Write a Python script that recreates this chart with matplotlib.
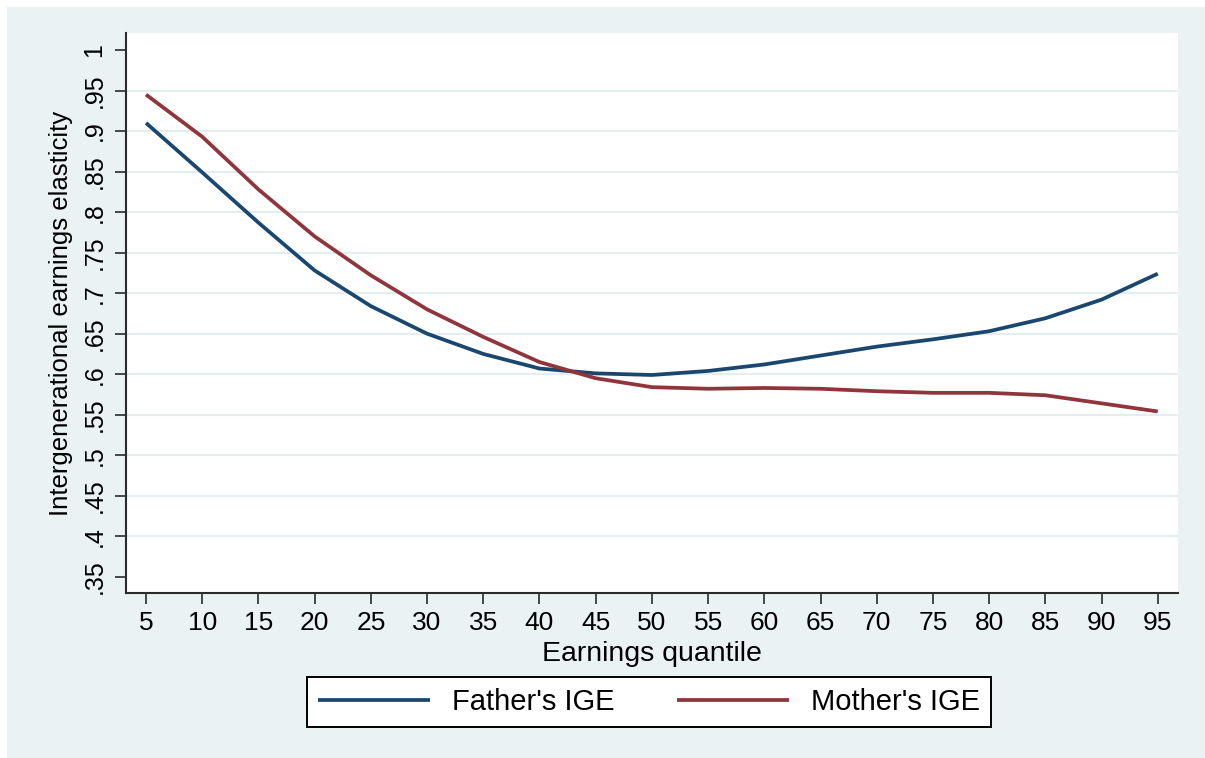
import matplotlib
matplotlib.use('Agg')
import matplotlib.pyplot as plt
from matplotlib.patches import Rectangle

plt.rcParams['font.family'] = ['Liberation Sans', 'DejaVu Sans']

# data
quantile = list(range(5, 100, 5))
father_ige = [0.910, 0.849, 0.787, 0.728, 0.684, 0.650, 0.625, 0.607, 0.601, 0.599,
              0.604, 0.612, 0.623, 0.634, 0.643, 0.653, 0.669, 0.692, 0.724]
mother_ige = [0.945, 0.893, 0.828, 0.770, 0.722, 0.680, 0.646, 0.615, 0.595, 0.584,
              0.582, 0.583, 0.582, 0.579, 0.577, 0.577, 0.574, 0.564, 0.554]
y_ticks = [0.35, 0.40, 0.45, 0.50, 0.55, 0.60, 0.65, 0.70, 0.75, 0.80, 0.85, 0.90, 0.95, 1.0]
y_labels = ['.35', '.4', '.45', '.5', '.55', '.6', '.65', '.7', '.75', '.8', '.85', '.9', '.95', '1']

W, H = 1205, 758
bg = '#EAF2F3'
navy = '#1A476F'
maroon = '#90353B'
axcol = '#2b2b2b'

fig = plt.figure(figsize=(W / 100, H / 100), dpi=100, facecolor='white')
# grey graph region, white strip on top and left like the source image
fig.patches.append(Rectangle((7 / W, 0), 1, 1 - 7 / H, transform=fig.transFigure,
                             facecolor=bg, edgecolor='none', zorder=-10))

ax = fig.add_axes([126 / W, 1 - 593 / H, (1178 - 126) / W, (593 - 33) / H])
ax.set_facecolor('white')

ax.plot(quantile, father_ige, color=navy, lw=2.7, label="Father's IGE", solid_capstyle='butt')
ax.plot(quantile, mother_ige, color=maroon, lw=2.7, label="Mother's IGE", solid_capstyle='butt')

ax.set_xlim(3.22, 96.8)
ax.set_ylim(0.330, 1.021)

ax.set_xticks(quantile)
ax.set_xticklabels([str(q) for q in quantile], fontsize=19)
ax.set_yticks(y_ticks)
ax.set_yticklabels(y_labels, fontsize=18, rotation=90, va='center')

ax.tick_params(axis='both', length=8, width=1.2, color=axcol)
ax.tick_params(axis='x', pad=5)
ax.tick_params(axis='y', pad=6)

for s in ['top', 'right']:
    ax.spines[s].set_visible(False)
for s in ['left', 'bottom']:
    ax.spines[s].set_color(axcol)
    ax.spines[s].set_linewidth(1.5)

# stata style grid: no lines at first and last label
ax.yaxis.grid(True, color='#E4EDEF', lw=1.6)
ax.set_axisbelow(True)
gl = ax.yaxis.get_gridlines()
gl[0].set_visible(False)
gl[-1].set_visible(False)

ax.set_ylabel('Intergenerational earnings elasticity', fontsize=18.5)
ax.yaxis.set_label_coords(-0.050, 0.5)
ax.set_xlabel('Earnings quantile', fontsize=20.5)
ax.xaxis.set_label_coords(0.5, -0.085)

leg = fig.legend(loc='center', bbox_to_anchor=(649 / W, 1 - 702 / H), ncol=2,
                 fontsize=21, frameon=True, fancybox=False, framealpha=1,
                 edgecolor='black', handlelength=3.85, handletextpad=0.75,
                 columnspacing=2.15, borderpad=0.38)
leg.get_frame().set_linewidth(1.4)

fig.savefig('out.png', dpi=100, facecolor=fig.get_facecolor())
